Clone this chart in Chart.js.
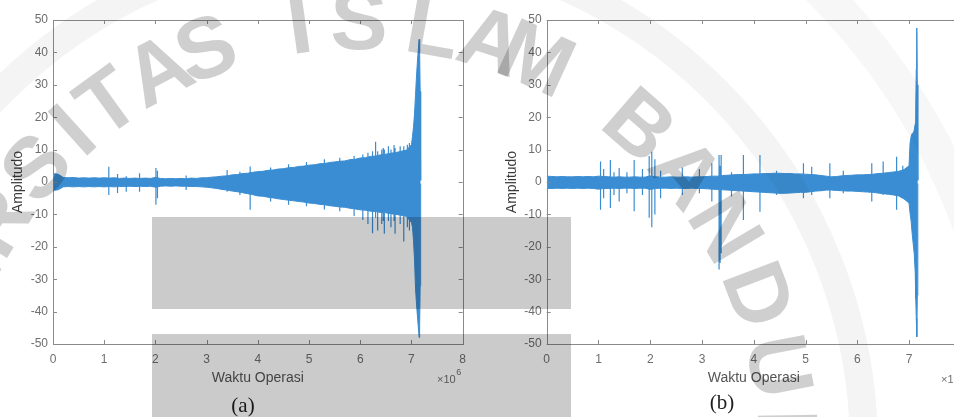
<!DOCTYPE html>
<html><head><meta charset="utf-8">
<script src="https://cdn.jsdelivr.net/npm/chart.js@4.4.0/dist/chart.umd.min.js"></script>
<style>
html,body{margin:0;padding:0;background:#fff;overflow:hidden;width:954px;height:417px;}
#wa{position:absolute;left:0;top:0;width:474px;height:417px;}
#wb{position:absolute;left:474px;top:0;width:500px;height:417px;}
</style></head><body>
<div id="wa"><canvas id="ca" width="474" height="417"></canvas></div>
<div id="wb"><canvas id="cb" width="500" height="417"></canvas></div>
<script>
// ---- tick labels ----
const X_TICKS = [0,1,2,3,4,5,6,7,8];
const Y_TICKS = [-50,-40,-30,-20,-10,0,10,20,30,40,50];
const X_LABEL = 'Waktu Operasi';
const Y_LABEL = 'Amplitudo';
const X_EXP = '6';

// ---- chart (a): signal envelope (x in units of 10^6) ----
const A_X = [0,0.1,0.2,0.3,0.4,0.5,0.6,0.7,0.8,0.9,1.0,1.1,1.2,1.3,1.4,1.5,1.6,1.7,1.8,1.9,2.0,2.1,2.2,2.3,2.4,2.5,2.6,2.7,2.8,2.9,3.0,3.1,3.2,3.3,3.4,3.5,3.6,3.7,3.8,3.9,4.0,4.1,4.2,4.3,4.4,4.5,4.6,4.7,4.8,4.9,5.0,5.1,5.2,5.3,5.4,5.5,5.6,5.7,5.8,5.9,6.0,6.1,6.2,6.3,6.4,6.5,6.6,6.7,6.8,6.9,7.0,7.02,7.04,7.06,7.08,7.10,7.12,7.14,7.15,7.16,7.17,7.18];
const A_UP = [2.6,2.4,1.4,1.3,1.4,1.2,1.3,1.2,1.3,1.2, 1.3,1.2,1.3,1.1,1.2,1.1,1.2,1.1,1.2,1.1, 1.4,1.1,1.0,1.1,1.0,1.1,1.0,1.2,1.1,1.3, 1.3,1.5,1.6,1.8,1.9,2.2,2.3,2.6,2.7,3.0, 3.2,3.3,3.6,3.7,4.0,4.1,4.4,4.5,4.8,4.9, 5.2,5.3,5.6,5.7,6.0,6.2,6.4,6.5,6.9,7.0, 7.4,7.5,7.9,8.0,8.4,8.6,8.9,9.1,9.5,9.8, 11.5, 14,17,21,27,33,38,42,44,40,28,0.5];
const A_LO = [-2.6,-2.4,-1.5,-1.4,-1.5,-1.4,-1.5,-1.4,-1.5,-1.4, -1.5,-1.4,-1.5,-1.4,-1.4,-1.3,-1.4,-1.3,-1.4,-1.3, -1.6,-1.3,-1.2,-1.3,-1.2,-1.3,-1.3,-1.4,-1.4,-1.5, -1.6,-1.8,-2.0,-2.3,-2.5,-2.8,-3.0,-3.3,-3.6,-3.9, -4.3,-4.4,-4.7,-4.9,-5.2,-5.4,-5.6,-5.8,-6.0,-6.2, -6.5,-6.6,-6.9,-7.0,-7.3,-7.5,-7.7,-7.8,-8.1,-8.3, -8.6,-8.7,-9.0,-9.1,-9.4,-9.5,-9.8,-10.0,-10.3,-10.6, -12.5, -14,-18,-24,-33,-38,-42,-46,-48,-44,-32,-0.5];
// isolated peaks of (a)
const A_SPK_X  = [1.09,1.26,1.43,1.69,2.01,2.04,2.6,3.4,3.65,3.85,4.25,4.6,4.95,5.3,5.6,5.88,6.05,6.15,6.24,6.30,6.34,6.42,6.45,6.47,6.55,6.6,6.66,6.68,6.78,6.85,6.92,6.96];
const A_SPK_UP = [4.7,2.5,1.8,2.7,4.3,3.5,2.0,3.7,3.2,4.8,4.5,5.5,6.2,7.0,7.5,8.0,8.5,9.0,9.5,12.4,9.5,10.0,10.5,10.0,11.0,10.0,11.4,10.5,11.0,11.0,11.5,12.0];
const A_SPK_DN = [-4.0,-3.4,-3.0,-3.0,-7.0,-5.0,-2.5,-3.0,-4.0,-8.6,-6.0,-7.0,-7.5,-8.5,-9.0,-10.5,-11.7,-13.0,-15.8,-11.0,-15.0,-13.0,-12.0,-16.0,-12.0,-14.0,-12.0,-16.0,-13.0,-18.4,-14.0,-15.0];

// ---- chart (b): signal envelope ----
const B_X = [0,0.1,0.2,0.3,0.4,0.5,0.6,0.7,0.8,0.9,1.0,1.1,1.2,1.3,1.4,1.5,1.6,1.7,1.8,1.9,2.0,2.1,2.2,2.3,2.4,2.5,2.6,2.7,2.8,2.9,3.0,3.1,3.2,3.3,3.4,3.5,3.6,3.7,3.8,3.9,4.0,4.1,4.2,4.3,4.4,4.5,4.6,4.7,4.8,4.9,5.0,5.1,5.2,5.3,5.4,5.5,5.6,5.7,5.8,5.9,6.0,6.1,6.2,6.3,6.4,6.5,6.6,6.7,6.8,6.9,7.0,7.02,7.04,7.06,7.08,7.10,7.12,7.13,7.14,7.15,7.16,7.17];
const B_UP = [1.8,1.7,1.6,1.7,1.6,1.6,1.7,1.6,1.7,1.6, 1.8,1.7,1.6,1.5,1.6,1.5,1.5,1.6,1.5,1.5, 1.9,1.6,1.5,1.5,1.6,1.5,1.5,1.6,1.5,1.6, 1.6,1.7,1.8,1.8,2.0,2.1,2.2,2.3,2.3,2.4, 2.5,2.5,2.6,2.6,2.7,2.7,2.6,2.6,2.5,2.5, 2.4,2.3,2.2,2.0,1.8,1.6,1.7,1.9,2.0,2.1, 2.2,2.2,2.3,2.4,2.6,2.7,2.9,3.1,3.3,3.8, 5.0, 12,14,15,15,16,18,24,35,47.5,30,0.5];
const B_LO = [-2.0,-2.0,-1.9,-2.0,-1.9,-2.0,-1.9,-2.0,-1.9,-2.0, -2.2,-2.0,-2.0,-1.9,-2.0,-1.9,-1.9,-2.0,-1.9,-1.9, -2.3,-2.0,-1.9,-1.9,-2.0,-1.9,-2.0,-2.0,-1.9,-2.0, -2.0,-2.1,-2.2,-2.3,-2.4,-2.5,-2.6,-2.7,-2.8,-2.9, -3.0,-3.1,-3.2,-3.3,-3.4,-3.5,-3.5,-3.4,-3.3,-3.2, -3.2,-3.0,-2.8,-2.7,-2.5,-2.5,-2.6,-2.7,-2.8,-2.8, -2.9,-3.0,-3.1,-3.2,-3.4,-3.6,-3.8,-4.0,-4.3,-5.2, -6.5, -9.6,-12,-15.8,-19,-22,-28,-36,-42,-47.8,-35,-0.5];
const B_SPK_X  = [1.04,1.10,1.23,1.30,1.40,1.55,1.69,1.85,1.98,2.03,2.09,2.20,2.62,2.95,3.19,3.33,3.35,3.37,3.57,3.80,4.12,4.44,4.96,5.12,5.47,5.73,6.28,6.50,6.76,6.88];
const B_SPK_UP = [6.3,4.0,6.8,3.0,4.3,3.0,6.8,4.0,8.0,9.3,7.0,3.5,4.5,4.0,5.8,8.3,5.0,8.3,3.0,8.3,8.3,3.5,5.8,4.7,5.8,3.5,5.8,6.3,7.8,5.0];
const B_SPK_DN = [-8.6,-5.0,-8.0,-4.0,-6.0,-3.5,-9.0,-4.0,-11.0,-14.0,-10.0,-5.0,-4.0,-3.5,-6.0,-27.0,-25.0,-22.0,-4.5,-11.7,-9.2,-4.0,-5.0,-4.0,-5.0,-3.5,-6.0,-4.0,-8.6,-5.0];

const BLUE = '#3a8dd2';
Chart.defaults.font.family = '"Liberation Sans", Arial, sans-serif';

function pts(xs, ys){ return xs.map((x,i)=>({x:x, y:ys[i]})); }
function spikes(xs, up, dn){
  const out = [];
  xs.forEach((x,i)=>{ out.push({x:x,y:dn[i]}); out.push({x:x,y:up[i]}); out.push({x:x,y:null}); });
  return out;
}

function drawWatermark(ctx, offX){
  ctx.save();
  ctx.globalCompositeOperation = 'multiply';
  ctx.translate(-offX, 0);
  ctx.strokeStyle = '#f4f4f4'; ctx.lineWidth = 28;
  ctx.beginPath(); ctx.arc(359,448,505,0,Math.PI*2); ctx.stroke();
  ctx.strokeStyle = '#f7f7f7'; ctx.lineWidth = 34;
  ctx.beginPath(); ctx.arc(359,448,650,0,Math.PI*2); ctx.stroke();
  ctx.fillStyle = '#cfcfcf';
  ctx.font = 'bold 86px "Liberation Sans", Arial, sans-serif';
  ctx.textAlign = 'center'; ctx.textBaseline = 'middle';
  const letters = [['U',-188],['N',-179],['I',-172],['V',-166],['E',-157],['R',-148],['S',-139],['I',-132],['T',-126],['A',-118],['S',-111],
                   ['I',-98],['S',-90],['L',-80],['A',-72],['M',-65.5],
                   ['B',-49],['A',-40],['N',-31],['D',-21],['U',-11],['N',-1],['G',9]];
  for (const [ch,a] of letters){
    const r = a*Math.PI/180;
    ctx.save();
    ctx.translate(359+423*Math.cos(r), 448+423*Math.sin(r));
    ctx.rotate(r+Math.PI/2);
    ctx.fillText(ch,0,0);
    ctx.restore();
  }
  ctx.fillStyle = '#cbcbcb';
  ctx.fillRect(152,217,419,92);
  ctx.fillRect(152,334,419,83);
  ctx.restore();
}

function makeChart(id, xs, up, lo, sx, sup, sdn, cfg){
  const deco = {
    id: 'deco',
    beforeDraw(chart){
      const c = chart.ctx; c.save(); c.fillStyle = '#fff'; c.fillRect(0,0,chart.width,chart.height); c.restore();
    },
    afterDatasetsDraw(chart){
      const {ctx, chartArea:{left,right,top,bottom}, scales:{x,y}} = chart;
      ctx.save();
      ctx.strokeStyle = '#8a8a8a'; ctx.lineWidth = 1;
      ctx.strokeRect(Math.round(left)+0.5, Math.round(top)+0.5, Math.round(right-left), Math.round(bottom-top));
      ctx.beginPath();
      X_TICKS.forEach(v=>{
        const px = Math.round(x.getPixelForValue(v))+0.5;
        ctx.moveTo(px,bottom); ctx.lineTo(px,bottom-4);
        ctx.moveTo(px,top); ctx.lineTo(px,top+4);
      });
      Y_TICKS.forEach(v=>{
        const py = Math.round(y.getPixelForValue(v))+0.5;
        ctx.moveTo(left,py); ctx.lineTo(left+4,py);
        ctx.moveTo(right,py); ctx.lineTo(right-4,py);
      });
      ctx.stroke();
      // exponent label
      ctx.fillStyle = '#6e6e6e';
      ctx.textBaseline = 'middle'; ctx.textAlign = 'left';
      ctx.font = '11px "Liberation Sans", Arial, sans-serif';
      ctx.fillText('\u00d710', cfg.expX, 380);
      const w = ctx.measureText('\u00d710').width;
      ctx.font = '9px "Liberation Sans", Arial, sans-serif';
      ctx.fillText(X_EXP, cfg.expX + w + 0.5, 373);
      // panel letter
      ctx.fillStyle = '#1e1e1e';
      ctx.textAlign = 'center';
      ctx.font = '21px "Liberation Serif", "Times New Roman", serif';
      ctx.fillText(cfg.panel, cfg.panelX, cfg.panelY);
      ctx.restore();
    },
    afterDraw(chart){ drawWatermark(chart.ctx, cfg.offX); }
  };
  return new Chart(document.getElementById(id), {
    type: 'line',
    data: { datasets: [
      { data: pts(xs, up), borderColor: BLUE, borderWidth: 1, pointRadius: 0, fill: false, tension: 0 },
      { data: pts(xs, lo), borderColor: BLUE, borderWidth: 1, pointRadius: 0, fill: '-1', backgroundColor: BLUE, tension: 0 },
      { data: spikes(sx, sup, sdn), borderColor: BLUE, borderWidth: 1.2, pointRadius: 0, fill: false, spanGaps: false }
    ]},
    options: {
      responsive: false, animation: false, devicePixelRatio: 1,
      layout: { padding: { left: 0, right: cfg.padR, top: 20, bottom: 0 } },
      plugins: { legend: { display: false }, tooltip: { enabled: false } },
      scales: {
        x: {
          type: 'linear', min: 0, max: 8,
          grid: { display: false, drawTicks: false }, border: { display: false },
          afterBuildTicks(s){ s.ticks = X_TICKS.map(v=>({value:v})); },
          ticks: { color: '#6e6e6e', padding: 8, font: { size: 12 }, maxRotation: 0, autoSkip: false },
          title: { display: true, text: X_LABEL, color: '#555', font: { size: 14 }, padding: { top: 0, bottom: 30 } },
          afterFit(s){ s.height = 73; }
        },
        y: {
          type: 'linear', min: -50, max: 50,
          grid: { display: false, drawTicks: false }, border: { display: false },
          afterBuildTicks(s){ s.ticks = Y_TICKS.map(v=>({value:v})); },
          ticks: { color: '#6e6e6e', padding: 5, font: { size: 12 }, autoSkip: false },
          title: { display: true, text: Y_LABEL, color: '#3a3a3a', font: { size: 14 }, padding: { top: cfg.yTitlePad, bottom: 0 } },
          afterFit(s){ s.width = cfg.yW; }
        }
      }
    },
    plugins: [deco]
  });
}

makeChart('ca', A_X, A_UP, A_LO, A_SPK_X, A_SPK_UP, A_SPK_DN,
  { offX: 0, padR: 8, yW: 53, yTitlePad: 9.6, expX: 437, panel: '(a)', panelX: 243, panelY: 406 });
makeChart('cb', B_X, B_UP, B_LO, B_SPK_X, B_SPK_UP, B_SPK_DN,
  { offX: 474, padR: 13.2, yW: 72.7, yTitlePad: 29.9, expX: 467, panel: '(b)', panelX: 248, panelY: 403 });
</script>
</body></html>
